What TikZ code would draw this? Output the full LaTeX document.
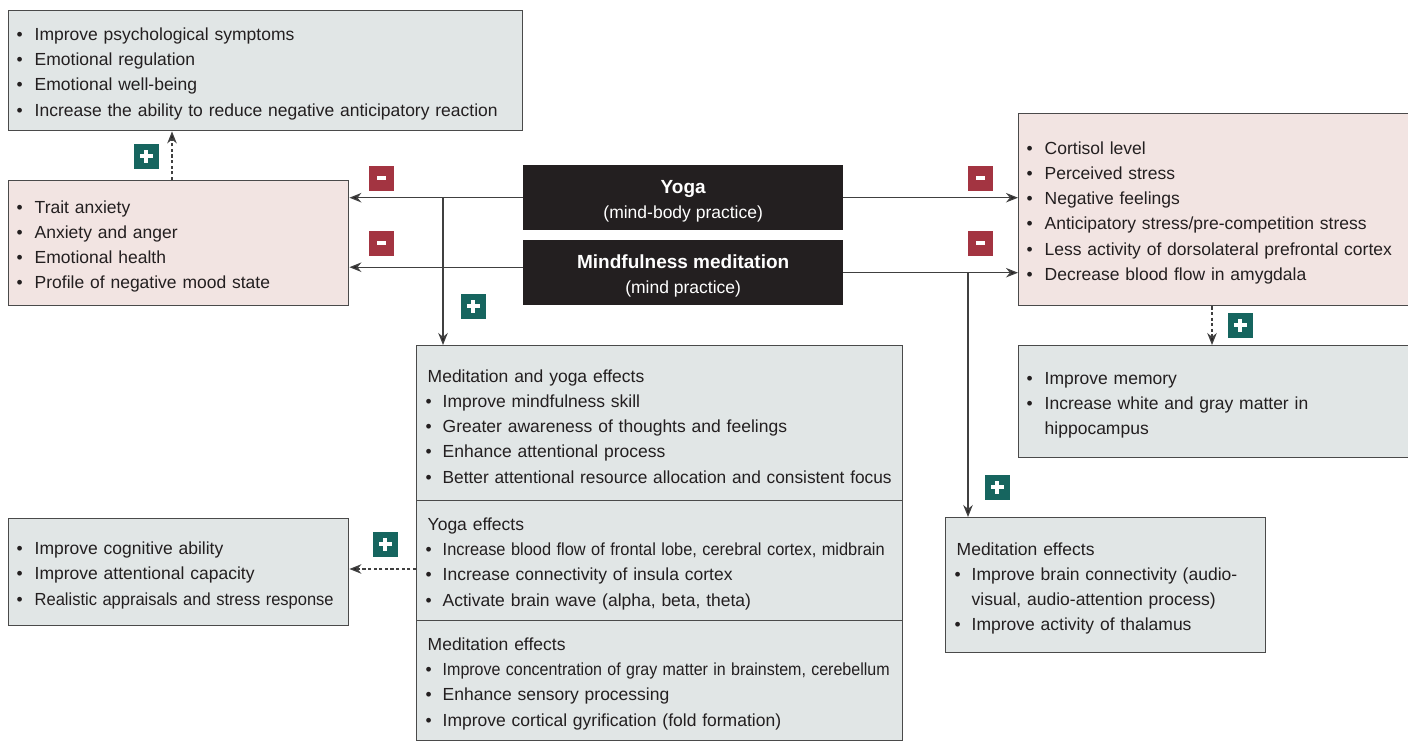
\documentclass[tikz,border=0pt]{standalone}
\usepackage{fontspec}
\usepackage{graphicx}
\setmainfont{Liberation Sans}
\usetikzlibrary{arrows.meta,calc}
\definecolor{boxblue}{HTML}{E1E6E6}
\definecolor{boxpink}{HTML}{F2E4E2}
\definecolor{edge}{HTML}{4A4A4A}
\definecolor{dark}{HTML}{231F20}
\definecolor{minusred}{HTML}{A33441}
\definecolor{plusteal}{HTML}{16655F}
\newcommand\li[1]{\mbox{\makebox[18pt][l]{\textbullet}#1}}
\newcommand\lj[1]{\mbox{\hspace*{-2pt}\makebox[17pt][l]{\textbullet}#1}}
\newcommand\blk[2]{\parbox[c][65pt][c]{320pt}{\centering\vspace*{7pt}%
  {\fontsize{19pt}{26pt}\selectfont\bfseries #1\par}#2}}
\newcommand\plusbadge[2]{%
  \node[badge,fill=plusteal] (#1) at (#2) {};
  \fill[white] ($(#1)+(-6.5,-2)$) rectangle ($(#1)+(6.5,2)$);
  \fill[white] ($(#1)+(-2,-6.5)$) rectangle ($(#1)+(2,6.5)$);}
\newcommand\minusbadge[2]{%
  \node[badge,fill=minusred] (#1) at (#2) {};
  \fill[white] ($(#1)+(-4.5,-2)$) rectangle ($(#1)+(4.5,2)$);}
\begin{document}
\begin{tikzpicture}[x=1pt,y=-1pt,
  every node/.style={font=\fontsize{17.5pt}{25.2pt}\selectfont, text=dark},
  boxbase/.style={draw=edge, line width=1.4pt, anchor=north west, align=left, inner ysep=0pt,
     execute at begin node={\rule{0pt}{19pt}}},
  outerbox/.style={boxbase, inner xsep=8pt},
  innerbox/.style={boxbase, inner xsep=11pt},
  bluebox/.style={fill=boxblue},
  pinkbox/.style={fill=boxpink},
  blackbox/.style={fill=dark, draw=none, text=white, anchor=north west, inner sep=0pt},
  conn/.style={draw=black!75, line width=1.3pt, -{Stealth[length=12pt,width=9.5pt,fill=dark]}},
  dconn/.style={conn, dash pattern=on 3.2pt off 2.4pt},
  badge/.style={minimum size=25pt, inner sep=0pt, draw=none},
]
\useasboundingbox (0,0) rectangle (1408,740);
\fill[white] (0,0) rectangle (1408,740);

% left column
\node[outerbox,bluebox,text width=498pt,minimum height=120pt] (tl) at (8,10)
  {\li{Improve psychological symptoms}\\ \li{Emotional regulation}\\ \li{Emotional well-being}\\
   \li{Increase the ability to reduce negative anticipatory reaction}};
\node[outerbox,pinkbox,text width=324pt,minimum height=125pt] (ax) at (8,180)
  {\li{Trait anxiety}\\ \li{Anxiety and anger}\\ \li{Emotional health}\\ \li{Profile of negative mood state}};
\node[outerbox,bluebox,text width=324pt,minimum height=107pt] (cog) at (8,518)
  {\li{Improve cognitive ability}\\ \li{Improve attentional capacity}\\
   \li{\resizebox{299pt}{\height}{Realistic appraisals and stress response}}};

% practices
\node[blackbox] (yoga) at (523,165) {\blk{Yoga}{(mind-body practice)}};
\node[blackbox] (mind) at (523,240) {\blk{Mindfulness meditation}{(mind practice)}};

% central box
\node[innerbox,bluebox,text width=464pt,minimum height=155pt] (myeff) at (416,345)
  {Meditation and yoga effects\\ \lj{Improve mindfulness skill}\\ \lj{Greater awareness of thoughts and feelings}\\
   \lj{Enhance attentional process}\\
   \lj{\resizebox{449pt}{\height}{Better attentional resource allocation and consistent focus}}};
\node[innerbox,bluebox,text width=464pt,minimum height=120pt] (yeff) at (416,500)
  {Yoga effects\\ \lj{\resizebox{442pt}{\height}{Increase blood flow of frontal lobe, cerebral cortex, midbrain}}\\
   \lj{Increase connectivity of insula cortex}\\ \lj{Activate brain wave (alpha, beta, theta)}};
\node[innerbox,bluebox,text width=464pt,minimum height=120pt] (meff) at (416,620)
  {Meditation effects\\ \lj{\resizebox{447pt}{\height}{Improve concentration of gray matter in brainstem, cerebellum}}\\
   \lj{Enhance sensory processing}\\ \lj{Improve cortical gyrification (fold formation)}};

% right column
\node[outerbox,pinkbox,text width=378pt,minimum height=192pt] (sr) at (1018,113)
  {\li{Cortisol level}\\ \li{Perceived stress}\\ \li{Negative feelings}\\ \li{Anticipatory stress/pre-competition stress}\\
   \li{Less activity of dorsolateral prefrontal cortex}\\ \li{Decrease blood flow in amygdala}};
\node[outerbox,bluebox,text width=378pt,minimum height=112pt] (mem) at (1018,345)
  {\li{Improve memory}\\ \li{Increase white and gray matter in}\\ \hspace*{18pt}hippocampus};
\node[innerbox,bluebox,text width=298pt,minimum height=135pt] (medr) at (945,517)
  {Meditation effects\\ \lj{Improve brain connectivity (audio-}\\ \hspace*{15pt}visual, audio-attention process)\\
   \lj{Improve activity of thalamus}};

% connectors
\draw[conn] (yoga.west) -- (yoga.west -| ax.east);
\draw[conn] ([yshift=5.5pt]mind.west) -- ([yshift=5.5pt]mind.west -| ax.east);
\coordinate (j1) at (443,197.5);
\draw[conn] (j1) -- (j1 |- myeff.north);
\draw[conn] (yoga.east) -- (yoga.east -| sr.west);
\draw[conn] (mind.east) -- (mind.east -| sr.west);
\coordinate (j2) at (968,272.5);
\draw[conn] (j2) -- (j2 |- medr.north);
\coordinate (d1) at (172,180);
\draw[dconn] (d1 |- ax.north) -- (d1 |- tl.south);
\coordinate (d2) at (1212,305);
\draw[dconn] (d2 |- sr.south) -- (d2 |- mem.north);
\coordinate (d3) at (416,569);
\draw[dconn] (d3 -| yeff.west) -- (d3 -| cog.east);

% badges
\plusbadge{p1}{146,156}
\minusbadge{m1}{381,178}
\minusbadge{m2}{381,243}
\plusbadge{p2}{473,306}
\minusbadge{m3}{980,178}
\minusbadge{m4}{980,243}
\plusbadge{p3}{1240,325}
\plusbadge{p4}{997,487}
\plusbadge{p5}{385,544}
\end{tikzpicture}
\end{document}
